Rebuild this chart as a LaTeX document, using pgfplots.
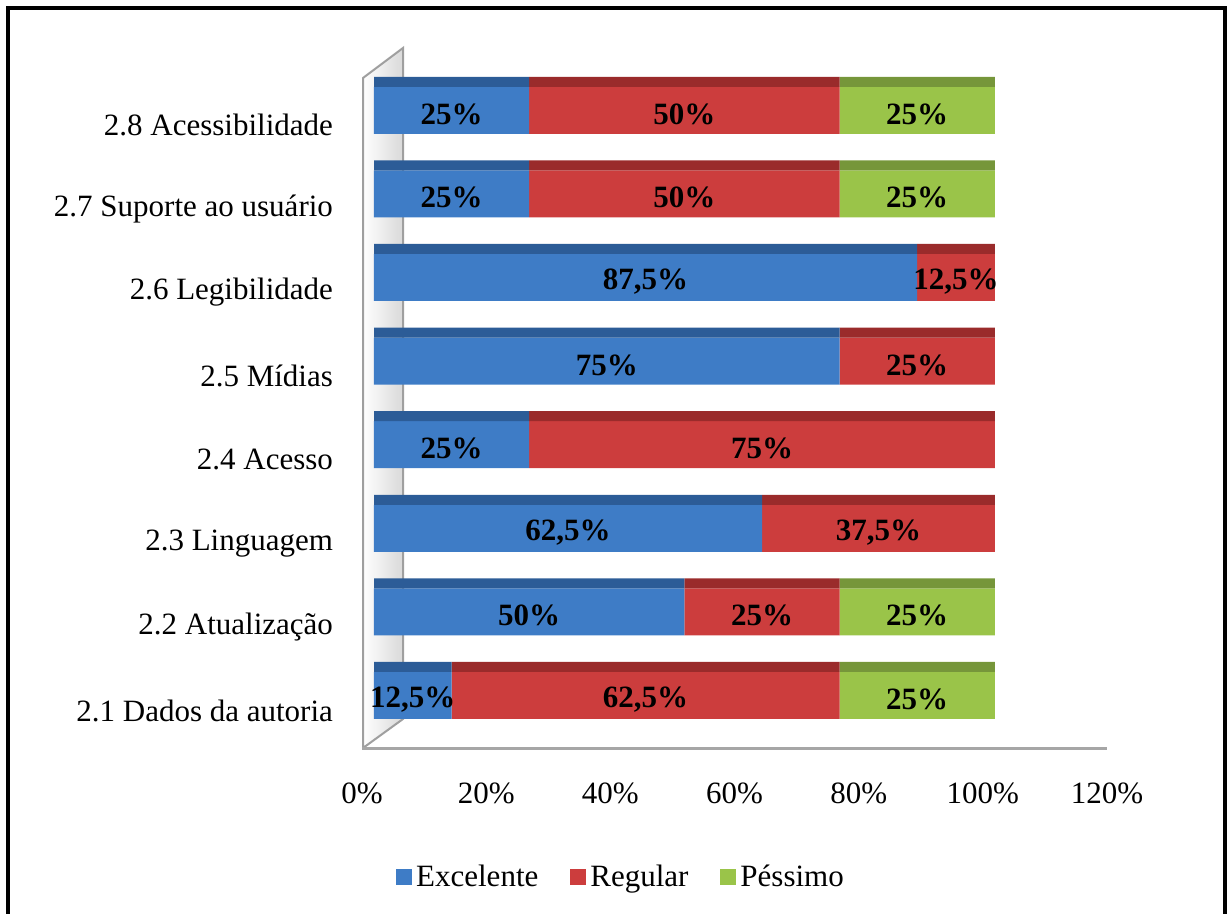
\documentclass[border=0pt]{standalone}
\usepackage{pgfplots}
\usepackage{pgfplotstable}
\pgfplotsset{compat=1.18}
\usepackage{fontspec}
\setmainfont{Liberation Serif}

\definecolor{bfront}{HTML}{3E7CC6}
\definecolor{btop}{HTML}{2C5C97}
\definecolor{rfront}{HTML}{CC3D3D}
\definecolor{rtop}{HTML}{9A2B2B}
\definecolor{gfront}{HTML}{9AC449}
\definecolor{gtop}{HTML}{76963A}

\newcommand{\lbl}{\fontsize{15.5}{18}\selectfont}

% cat: 1 = 2.1 ... 8 = 2.8 ; ex = Excelente, re = Regular, pe = Pessimo (%)
\pgfplotstableread{
cat ex   re   pe
1   12.5 62.5 25
2   50   25   25
3   62.5 37.5 0
4   25   75   0
5   75   25   0
6   87.5 12.5 0
7   25   50   25
8   25   50   25
}\data

\pgfplotsset{
  base/.style={
    at={(181pt,-374pt)}, anchor=south west,
    scale only axis, width=372.5pt, height=350pt,
    xmin=0, xmax=120, ymin=0.312, ymax=8.685,
  },
}

\begin{document}
\begin{tikzpicture}
\useasboundingbox (0,0) rectangle (613.5pt,-457pt);
% back wall
\begin{scope}[x=0.5pt,y=-0.5pt]
  \shade[left color=white, right color=gray!30, draw=gray!75, line width=1pt]
    (363,748) -- (363,78) -- (403,48) -- (403,719) -- cycle;
\end{scope}
% front faces, ticks and legend
\begin{axis}[
  base,
  xbar stacked, bar width=23.5pt, bar shift=-2.5pt,
  axis x line*=bottom, axis y line*=left,
  x axis line style={draw=gray!70, line width=1.5pt, -},
  y axis line style={draw=none},
  tick style={draw=none},
  xtick={0,20,...,120},
  xticklabel={\pgfmathprintnumber{\tick}\%},
  /pgf/number format/assume math mode=true,
  xticklabel style={font=\lbl, yshift=-14pt},
  ytick={1,...,8},
  yticklabels={2.1 Dados da autoria, 2.2 Atualização, 2.3 Linguagem, 2.4 Acesso, 2.5 Mídias, 2.6 Legibilidade, 2.7 Suporte ao usuário, 2.8 Acessibilidade},
  yticklabel style={font=\lbl, xshift=-11pt, yshift=-10pt},
  legend style={at={(0.349,-0.184)}, anchor=center, draw=none, font=\lbl,
    legend columns=-1, /tikz/every even column/.append style={column sep=14pt}},
  legend image code/.code={\path[#1] (0pt,-4pt) rectangle (8pt,4pt);},
]
\addplot[draw=none, fill=bfront, xshift=6pt] table[x=ex, y=cat] {\data};
\addplot[draw=none, fill=rfront, xshift=6pt] table[x=re, y=cat] {\data};
\addplot[draw=none, fill=gfront, xshift=6pt] table[x=pe, y=cat] {\data};
\legend{Excelente, Regular, Péssimo}
\end{axis}
% darker top faces of the bars
\begin{axis}[base, hide axis, xbar stacked, bar width=5pt, bar shift=11.75pt]
\addplot[draw=none, fill=btop, xshift=6pt] table[x=ex, y=cat] {\data};
\addplot[draw=none, fill=rtop, xshift=6pt] table[x=re, y=cat] {\data};
\addplot[draw=none, fill=gtop, xshift=6pt] table[x=pe, y=cat] {\data};
\end{axis}
% value labels at the middle of each segment
\begin{axis}[base, hide axis,
  /pgf/number format/assume math mode=true,
  nodes near coords={\pgfmathprintnumber[fixed,use comma]{\pgfplotspointmeta}\%},
  every node near coord/.style={font=\lbl\bfseries, text=black, anchor=center, yshift=-4.5pt},
  unbounded coords=discard,
]
\addplot[draw=none, mark=none, xshift=6pt, point meta=\thisrow{ex}]
  table[x expr=\thisrow{ex}/2, y=cat] {\data};
\addplot[draw=none, mark=none, xshift=6pt, point meta=\thisrow{re}]
  table[x expr=\thisrow{ex}+\thisrow{re}/2, y=cat] {\data};
\addplot[draw=none, mark=none, xshift=6pt, point meta=\thisrow{pe},
  x filter/.expression={\thisrow{pe}>0 ? x : nan}]
  table[x expr=\thisrow{ex}+\thisrow{re}+\thisrow{pe}/2, y=cat] {\data};
\end{axis}
% frame
\begin{scope}[x=0.5pt,y=-0.5pt]
  \draw[line width=2pt] (8,930) -- (8,8) -- (1225,8) -- (1225,930);
\end{scope}
\end{tikzpicture}
\end{document}
